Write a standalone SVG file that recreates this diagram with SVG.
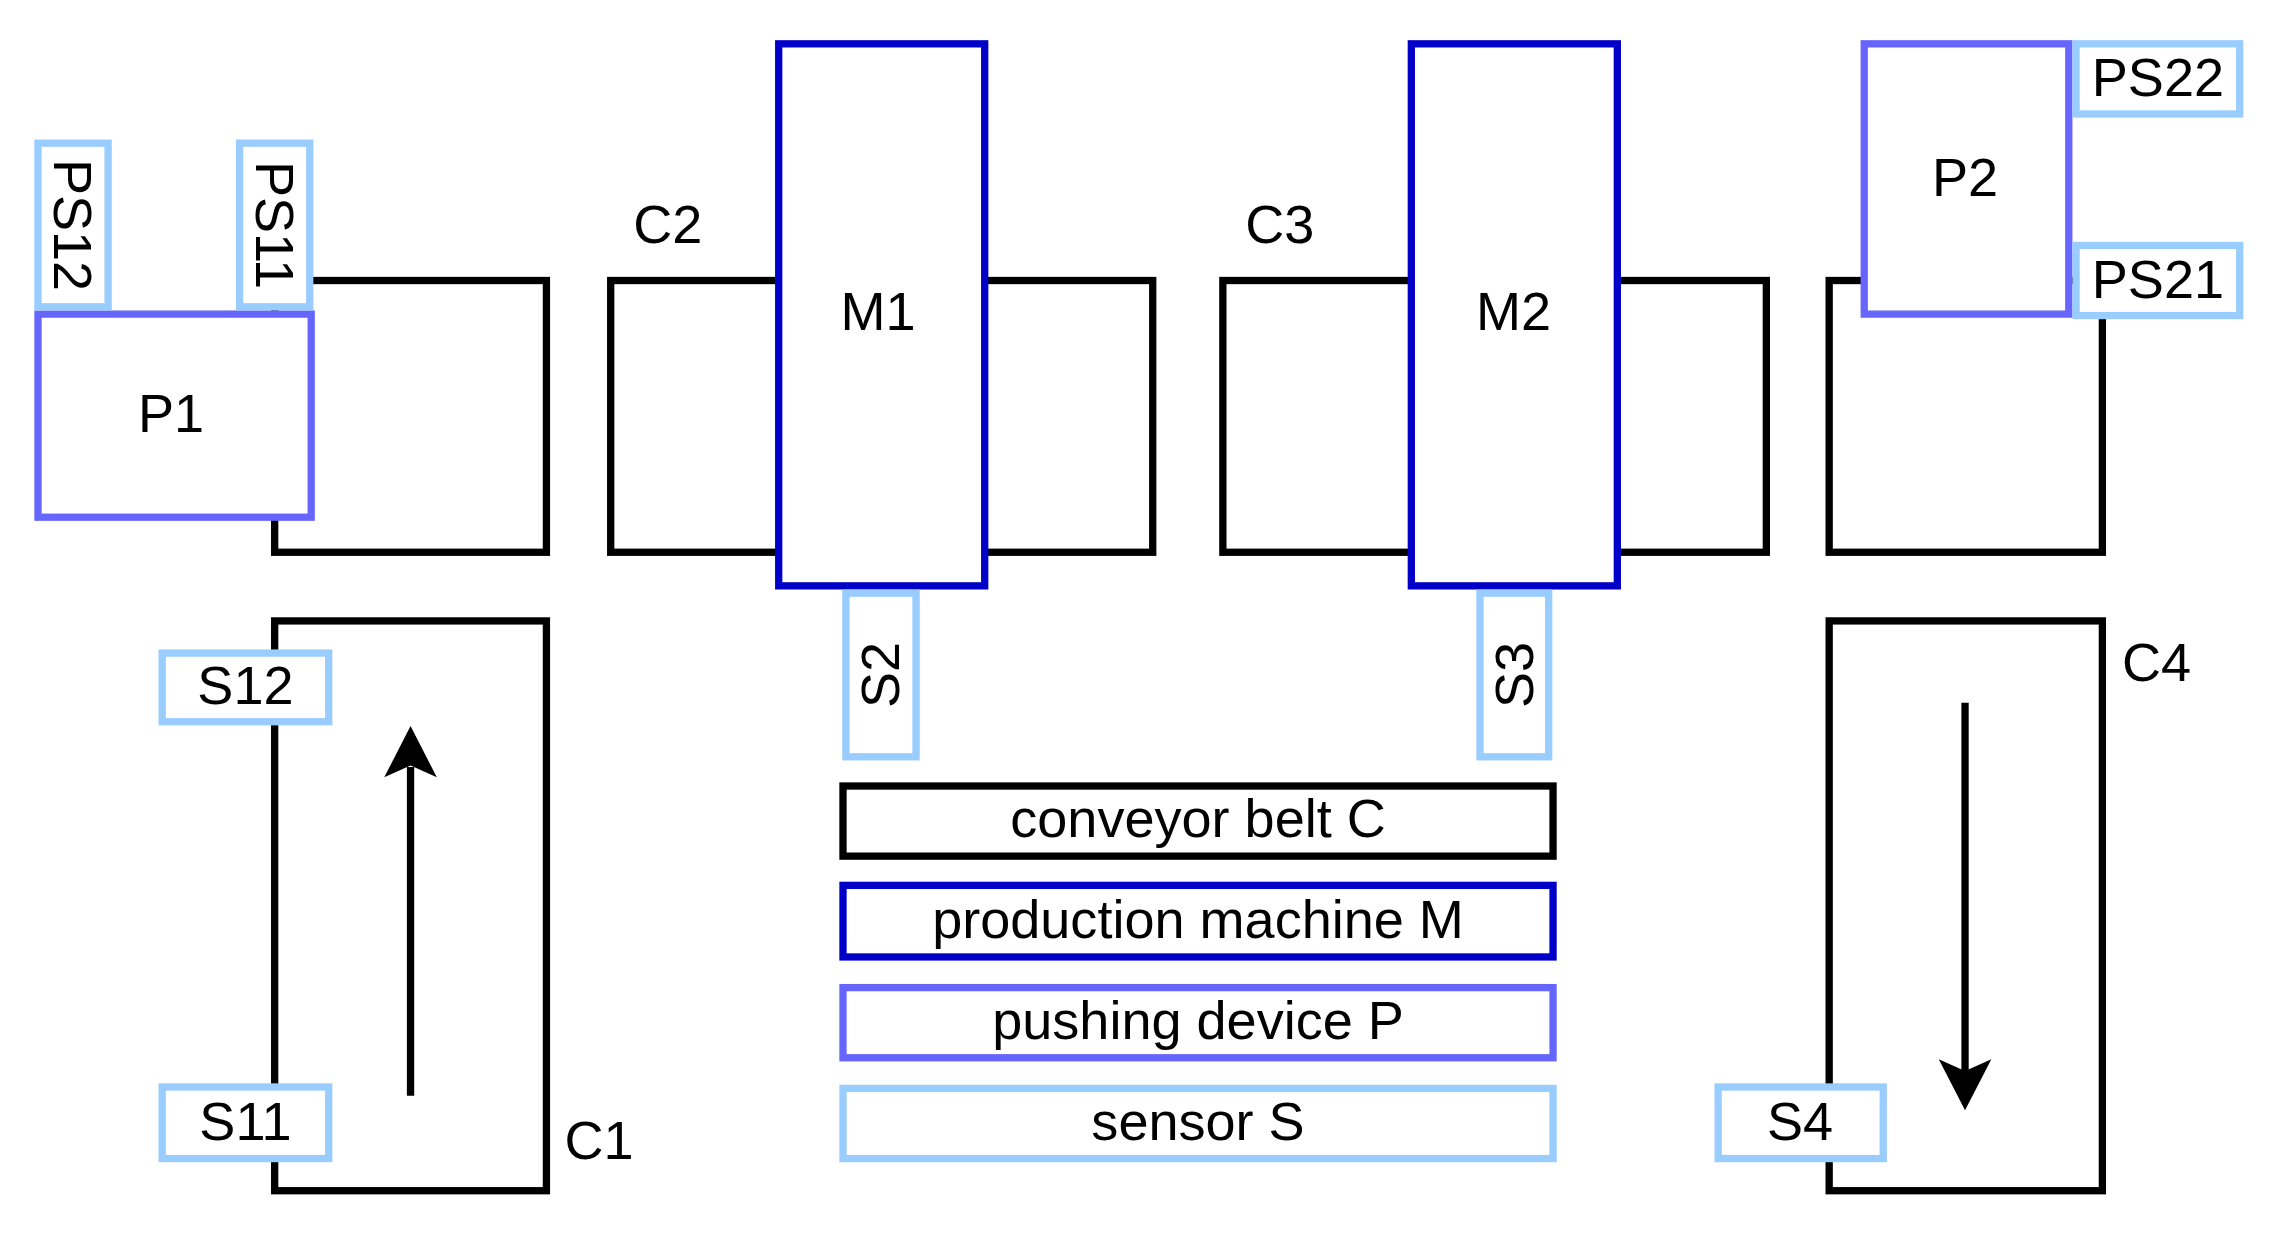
<svg xmlns="http://www.w3.org/2000/svg" width="2290" height="1233" viewBox="0 0 2290 1233">
<style>
rect{fill:none;stroke-width:5}
.c{stroke:#000}.m{stroke:#0000c8}.p{stroke:#6666ff}.s{stroke:#99ccff}
.w{fill:#fff}
text{font-family:"Liberation Sans",Arial,sans-serif;font-size:37px;fill:#000;text-anchor:middle;dominant-baseline:central}
</style>
<rect x="0" y="0" width="2290" height="1233" style="fill:#fff;stroke:none"/>
<g transform="scale(1.461)">
<g id="C1"><rect class="c" x="188" y="192" width="186" height="186"/><rect class="c" x="188" y="425" width="186" height="390"/><text x="410" y="780">C1</text></g>
<g id="C2"><rect class="c" x="418" y="192" width="371" height="186"/><text x="457" y="153">C2</text></g>
<g id="C3"><rect class="c" x="837" y="192" width="372" height="186"/><text x="876" y="153">C3</text></g>
<g id="C4"><rect class="c" x="1252" y="192" width="187" height="186"/><rect class="c" x="1252" y="425" width="187" height="390"/><text x="1476" y="453">C4</text></g>
<g id="M1"><rect class="m" x="533" y="30" width="141" height="371" style="fill:#fff"/><text x="601" y="213">M1</text></g>
<g id="M2"><rect class="m" x="966" y="30" width="141" height="371" style="fill:#fff"/><text x="1036" y="213">M2</text></g>
<g id="P1"><rect class="p" x="26" y="215" width="187" height="139" style="fill:#fff"/><text x="117" y="283">P1</text></g>
<g id="P2"><rect class="p" x="1276" y="30" width="140" height="185" style="fill:#fff"/><text x="1345" y="121">P2</text></g>
<g id="PS12"><rect class="s" x="26" y="98" width="48" height="112" style="fill:#fff"/><text transform="translate(50,154) rotate(90)">PS12</text></g>
<g id="PS11"><rect class="s" x="164" y="98" width="48" height="112" style="fill:#fff"/><text transform="translate(188,154) rotate(90)">PS11</text></g>
<g id="PS22"><rect class="s" x="1421" y="30" width="112" height="48" style="fill:#fff"/><text x="1477" y="53">PS22</text></g>
<g id="PS21"><rect class="s" x="1421" y="168" width="112" height="48" style="fill:#fff"/><text x="1477" y="191">PS21</text></g>
<g id="S2"><rect class="s" x="579" y="406" width="48" height="112"/><text transform="translate(602,462) rotate(-90)">S2</text></g>
<g id="S3"><rect class="s" x="1013" y="406" width="47" height="112"/><text transform="translate(1036,462) rotate(-90)">S3</text></g>
<g id="S12"><rect class="s" x="111" y="447" width="114" height="47" style="fill:#fff"/><text x="168" y="469">S12</text></g>
<g id="S11"><rect class="s" x="111" y="744" width="114" height="49" style="fill:#fff"/><text x="168" y="767">S11</text></g>
<g id="S4"><rect class="s" x="1176" y="744" width="113" height="49" style="fill:#fff"/><text x="1232" y="767">S4</text></g>
<g id="legend">
<rect class="c" x="577" y="538" width="486" height="48"/><text x="820" y="560">conveyor belt C</text>
<rect class="m" x="577" y="606" width="486" height="49"/><text x="820" y="629">production machine M</text>
<rect class="p" x="577" y="676" width="486" height="48"/><text x="820" y="698">pushing device P</text>
<rect class="s" x="577" y="745" width="486" height="48"/><text x="820" y="767">sensor S</text>
</g>
<g id="connectors">
<line x1="281" y1="750" x2="281" y2="525" stroke="#000" stroke-width="5"/>
<path d="M281,497L299,532L281,524L263,532Z" fill="#000"/>
<line x1="1345" y1="481" x2="1345" y2="735" stroke="#000" stroke-width="5"/>
<path d="M1345,760L1327,725L1345,733L1363,725Z" fill="#000"/>
</g>
</g>
</svg>
